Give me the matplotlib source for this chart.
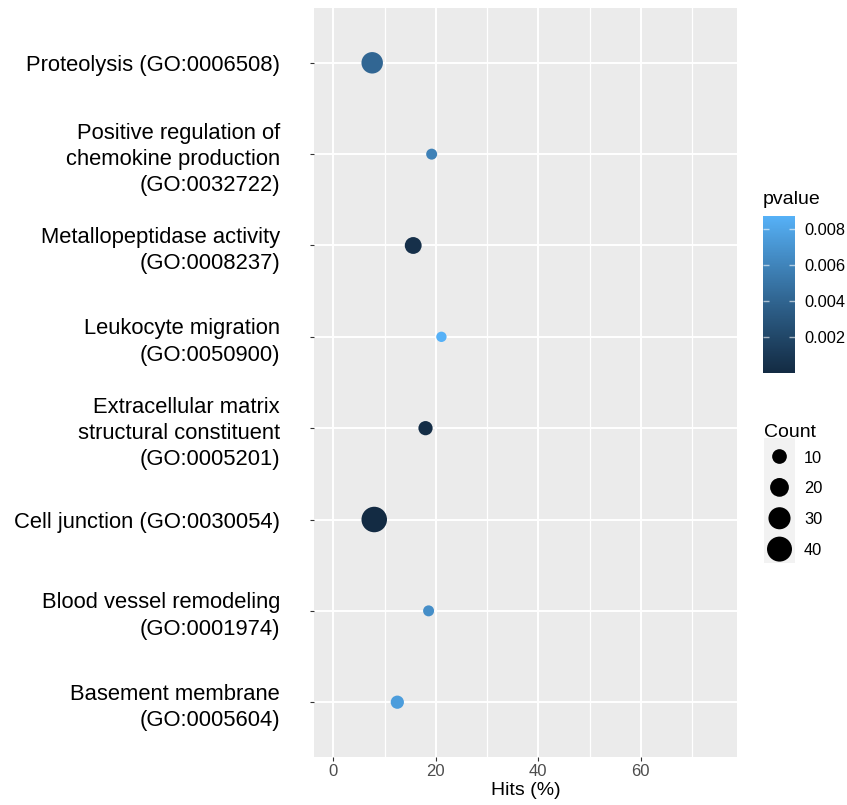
import numpy as np
import matplotlib
matplotlib.use("Agg")
import matplotlib.pyplot as plt
from matplotlib.colors import ListedColormap, Normalize
from matplotlib.cm import ScalarMappable

plt.rcParams['font.family'] = ['Liberation Sans', 'DejaVu Sans']

# data (listed top to bottom as shown)
terms = ["Proteolysis (GO:0006508)",
         "Positive regulation of\nchemokine production\n(GO:0032722)",
         "Metallopeptidase activity\n(GO:0008237)",
         "Leukocyte migration\n(GO:0050900)",
         "Extracellular matrix\nstructural constituent\n(GO:0005201)",
         "Cell junction (GO:0030054)",
         "Blood vessel remodeling\n(GO:0001974)",
         "Basement membrane\n(GO:0005604)"]
hits = [7.6, 19.2, 15.6, 21.1, 18.0, 8.0, 18.6, 12.5]
counts = [28, 3, 15, 2, 9, 42, 3, 7]
pvalues = [0.0041, 0.0058, 0.0004, 0.0087, 0.0002, 0.00001, 0.0066, 0.0075]
count_breaks = [10, 20, 30, 40]
pvalue_breaks = [0.002, 0.004, 0.006, 0.008]
x_breaks = [0, 20, 40, 60]


# ggplot-like gradient (interpolated in CIELAB)
M = np.array([[0.4124, 0.3576, 0.1805], [0.2126, 0.7152, 0.0722], [0.0193, 0.1192, 0.9505]])
WHITE = np.array([0.95047, 1.0, 1.08883])

def hex2lab(h):
    rgb = np.array([int(h[i:i + 2], 16) for i in (1, 3, 5)]) / 255
    lin = np.where(rgb <= 0.04045, rgb / 12.92, ((rgb + 0.055) / 1.055) ** 2.4)
    xyz = M @ lin / WHITE
    f = np.where(xyz > 0.008856, np.cbrt(xyz), 7.787 * xyz + 16 / 116)
    return np.array([116 * f[1] - 16, 500 * (f[0] - f[1]), 200 * (f[1] - f[2])])

def lab2rgb(lab):
    fy = (lab[0] + 16) / 116
    f = np.array([fy + lab[1] / 500, fy, fy - lab[2] / 200])
    xyz = np.where(f ** 3 > 0.008856, f ** 3, (f - 16 / 116) / 7.787) * WHITE
    lin = np.linalg.inv(M) @ xyz
    rgb = np.where(lin <= 0.0031308, 12.92 * lin, 1.055 * np.abs(lin) ** (1 / 2.4) - 0.055)
    return np.clip(rgb, 0, 1)

lo, hi = hex2lab("#132B43"), hex2lab("#56B1F7")
cmap = ListedColormap([lab2rgb(lo + (hi - lo) * t) for t in np.linspace(0, 1, 256)])
norm = Normalize(vmin=min(pvalues), vmax=max(pvalues))

def size_of(c):
    return 41.5 + 7.05 * np.asarray(c)

fig = plt.figure(figsize=(8.47, 8.05), dpi=100)
ax = fig.add_axes([314 / 847, 48 / 805, 423 / 847, 749 / 805])
ax.set_facecolor("#EBEBEB")
for s in ax.spines.values():
    s.set_visible(False)

n = len(terms)
ypos = np.arange(n, 0, -1)
ax.scatter(hits, ypos, s=size_of(counts), c=pvalues, cmap=cmap, norm=norm,
           linewidths=0, zorder=3)

ax.set_xlim(-3.75, 78.75)
ax.set_ylim(0.4, n + 0.6)
ax.set_xticks(x_breaks)
ax.set_xticks([10, 30, 50, 70], minor=True)
ax.set_yticks(ypos)
ax.set_yticklabels(terms, fontsize=15.8, color="black", va="center_baseline", linespacing=1.33)
ax.grid(True, which="major", color="white", linewidth=1.4, zorder=0)
ax.grid(True, which="minor", axis="x", color="white", linewidth=0.9, zorder=0)
ax.set_axisbelow(True)
ax.tick_params(axis="x", which="major", length=2.9, width=0.8, color="#333333",
               labelsize=12, labelcolor="#4D4D4D", pad=2)
ax.tick_params(axis="y", length=2.9, width=0.8, color="#333333", pad=21.5)
ax.tick_params(which="minor", length=0)
ax.set_xlabel("Hits (%)", fontsize=14, labelpad=2)

# pvalue colourbar
cax = fig.add_axes([762.7 / 847, (805 - 372.7) / 805, 32.3 / 847, 156.7 / 805])
cb = fig.colorbar(ScalarMappable(norm=norm, cmap=cmap), cax=cax, ticks=pvalue_breaks)
cb.outline.set_visible(False)
cb.ax.minorticks_off()
cb.ax.set_yticklabels(["%.3f" % v for v in pvalue_breaks])
cb.ax.tick_params(direction="in", length=4.4, width=1, color=(1, 1, 1, 0.6),
                  left=True, right=True, labelsize=11.8, pad=6.5)
fig.text(763 / 847, 1 - 204 / 805, "pvalue", fontsize=14, ha="left", va="baseline")

# Count legend
lax = fig.add_axes([764 / 847, (805 - 563) / 805, 31 / 847, 125 / 805])
lax.set_facecolor("#F2F2F2")
for s in lax.spines.values():
    s.set_visible(False)
ky = np.arange(1, len(count_breaks) + 1)
lax.scatter(np.zeros(len(ky)), ky, s=size_of(count_breaks), color="black",
            linewidths=0, clip_on=False)
lax.set_xlim(-1, 1)
lax.set_ylim(4.45, 0.4)
lax.set_xticks([])
lax.yaxis.tick_right()
lax.set_yticks(ky)
lax.set_yticklabels([str(c) for c in count_breaks])
lax.tick_params(axis="y", length=0, labelsize=11.8, pad=6.5)
fig.text(764 / 847, 1 - 436.7 / 805, "Count", fontsize=14, ha="left", va="baseline")

fig.savefig("out.png", dpi=100)
